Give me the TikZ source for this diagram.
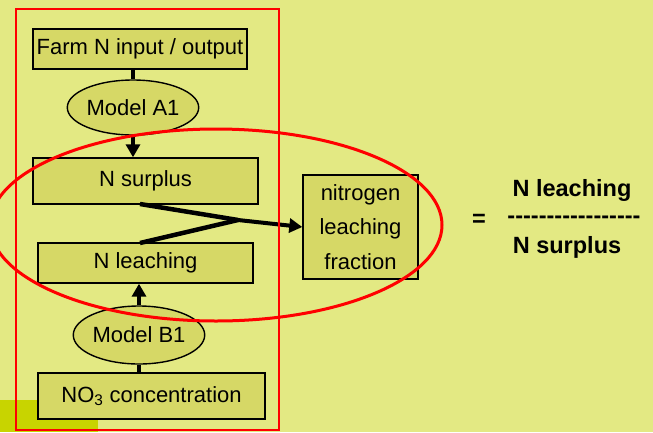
\documentclass[tikz,border=0pt]{standalone}
\usepackage{fontspec}
\setmainfont{Liberation Sans}
\newfontfamily\plainhyph{Liberation Sans}[Ligatures=TeXOff]
\usetikzlibrary{arrows.meta,shapes.geometric}
\definecolor{slidebg}{HTML}{E3E983}
\definecolor{boxfill}{HTML}{D6D866}
\definecolor{cornerpatch}{HTML}{C8D400}
\definecolor{ringred}{HTML}{FF0000}
\tikzset{
  stepbox/.style={draw=black, line width=1.4pt, fill=boxfill, rectangle,
    inner sep=0pt, font=\fontsize{22}{26}\selectfont},
  modelnode/.style={draw=black, line width=1.4pt, fill=boxfill, ellipse,
    inner sep=0pt, font=\fontsize{22}{26}\selectfont},
  flow/.style={line width=4pt, -{Triangle[width=14pt,length=13pt]}},
  plainflow/.style={line width=4pt},
  joinline/.style={line width=4.5pt},
  eqtext/.style={font=\fontsize{23.5}{27}\selectfont\bfseries, inner sep=0pt}
}
\begin{document}
\begin{tikzpicture}[x=1pt,y=-1pt]
  % slide background
  \fill[slidebg] (0,0) rectangle (653,432);
  \useasboundingbox (0,0) rectangle (653,432);
  \fill[cornerpatch] (0,400) rectangle (98,432);

  % left column of steps
  \node[stepbox, minimum width=214pt, minimum height=40pt] (farm) at (140,49) {Farm N input / output};
  \node[modelnode, minimum width=107pt, minimum height=55pt] (A1) at (133,107.5) {Model A1};
  \node[stepbox, minimum width=225pt, minimum height=46pt] (surplus) at (145.5,181) {N surplus};
  \node[stepbox, minimum width=215pt, minimum height=40pt] (leach) at (145.5,263) {N leaching};
  \node[modelnode, minimum width=109pt, minimum height=58pt] (B1) at (139,335) {Model B1};
  \node[stepbox, minimum width=227pt, minimum height=46pt] (no3) at (151.5,396) {NO\textsubscript{3} concentration};

  % result box
  \node[stepbox, minimum width=115pt, minimum height=104pt, align=center,
        font=\fontsize{22}{34.5}\selectfont] (frac) at (360.5,227) {nitrogen\\leaching\\fraction};

  % vertical connectors
  \draw[plainflow] (A1.north |- farm.south) -- (A1.north);
  \draw[flow] (A1.south) -- (A1.south |- surplus.north);
  \draw[plainflow] (B1.south |- no3.north) -- (B1.south);
  \draw[flow] (B1.north) -- (B1.north |- leach.south);

  % both quantities merge into the fraction
  \coordinate (join) at (238,220);
  \coordinate (sfoot) at (140,204);
  \coordinate (lhead) at (140,243);
  \draw[joinline] (sfoot) -- (join);
  \draw[joinline] (lhead) -- (join);
  \draw[flow] (join) -- (frac.west);

  % definition of the fraction
  \node[eqtext] (eq) at (479,220) {=};
  \node[eqtext] (num) at (572,190) {N leaching};
  \node[eqtext, font=\fontsize{23.5}{27}\selectfont\bfseries\plainhyph] (bar) at (574,220) {-----------------};
  \node[eqtext] (den) at (567,247) {N surplus};

  % highlight marks
  \draw[ringred, line width=1.5pt] (16,9) rectangle (279,430);
  \draw[ringred, line width=3pt] (216,225) ellipse [x radius=226, y radius=96];
\end{tikzpicture}
\end{document}
